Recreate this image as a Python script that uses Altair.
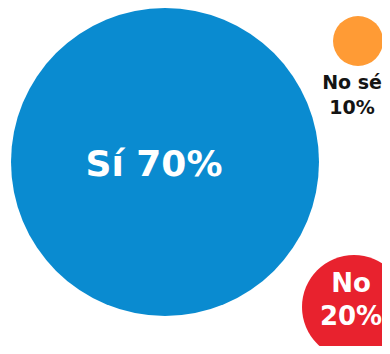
import altair as alt
import pandas as pd

# Data
categories = ["Sí", "No", "No sé"]
values = [70, 20, 10]
labels = ["Sí 70%", "No\n20%", "No sé\n10%"]
colors = ["#0a8bd0", "#e8222e", "#ff9b35"]
label_colors = ["#ffffff", "#ffffff", "#141414"]
label_sizes = [36, 26, 19]
line_heights = [40, 33, 25]

# Layout (bubble positions and label anchors, in layout units)
bx = [157, 346, 350]
by = [154, 299, 33]
lx = [146, 343, 344]
ly = [157, 276, 74.5]

W, H = 374, 338

df = pd.DataFrame({
    "cat": categories, "value": values, "label": labels,
    "bx": bx, "by": by, "lx": lx, "ly": ly,
})

xs = alt.Scale(domain=[0, W], nice=False, zero=False)
ys = alt.Scale(domain=[0, H], reverse=True, nice=False, zero=False)

bubbles = alt.Chart(df).mark_circle(opacity=1).encode(
    x=alt.X("bx:Q", scale=xs, axis=None),
    y=alt.Y("by:Q", scale=ys, axis=None),
    size=alt.Size("value:Q", scale=alt.Scale(domain=[10, 20, 70], range=[2500, 10816, 94864]), legend=None),
    color=alt.Color("cat:N", scale=alt.Scale(domain=categories, range=colors), legend=None),
)

layers = [bubbles]
for cat, col, fs, lh in zip(categories, label_colors, label_sizes, line_heights):
    layers.append(
        alt.Chart(df).transform_filter(alt.datum.cat == cat).mark_text(
            font="DejaVu Sans", fontWeight="bold", align="center", baseline="middle",
            lineBreak="\n", fontSize=fs, lineHeight=lh, color=col,
        ).encode(
            x=alt.X("lx:Q", scale=xs, axis=None),
            y=alt.Y("ly:Q", scale=ys, axis=None),
            text="label:N",
        )
    )

chart = alt.layer(*layers).properties(
    width=W, height=H, padding=0, autosize=alt.AutoSizeParams(type="none"),
).configure_view(stroke=None)

chart.save("out.html", embed_options={"renderer": "svg", "actions": False})
